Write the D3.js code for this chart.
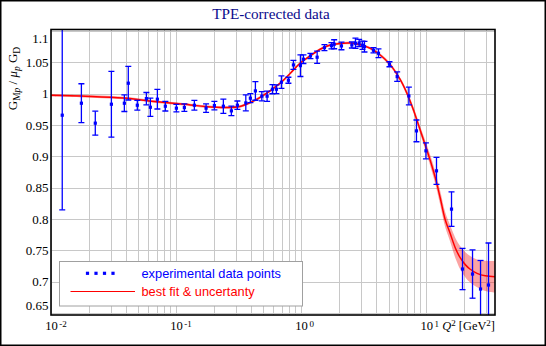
<!DOCTYPE html>
<html>
<head>
<meta charset="utf-8">
<script src="https://cdn.jsdelivr.net/npm/d3@7"></script>
<style>
  html, body { margin: 0; padding: 0; background: #fff; }
  svg { display: block; }
</style>
</head>
<body>
<svg id="chart" width="546" height="346"></svg>
<script>
// Measured G_Mp / (mu_p G_D) after two-photon-exchange correction
const q2 = [0.0123, 0.0175, 0.0226, 0.0304, 0.0386, 0.0415, 0.0490, 0.0579, 0.0623, 0.0709,
            0.0821, 0.1006, 0.1165, 0.1401, 0.1738, 0.2025, 0.2389, 0.2769, 0.3093, 0.3611,
            0.3929, 0.4309, 0.4850, 0.5346, 0.5894, 0.6344, 0.6957, 0.7913, 0.8677, 0.9872,
            1.0433, 1.187, 1.343, 1.536, 1.748, 1.837, 2.101, 2.545, 2.719, 2.911,
            3.094, 3.210, 3.788, 4.154, 5.086, 5.861, 7.27, 8.36, 9.95, 12.09,
            15.94, 19.52, 23.47, 27.2, 31.5];
const ratio = [0.9656, 0.9847, 0.9529, 0.9831, 0.9847, 1.0166, 0.9815, 0.9920, 0.9783, 0.9911,
               0.9799, 0.9768, 0.9777, 0.9815, 0.9768, 0.9809, 0.9799, 0.9725, 0.9815, 0.9852,
               0.9927, 1.0043, 0.9959, 0.9959, 1.0070, 1.0070, 1.0182, 1.0213, 1.0457, 1.0446,
               1.0548, 1.0600, 1.0580, 1.0732, 1.0764, 1.0787, 1.0760, 1.0775, 1.0803, 1.0807,
               1.0771, 1.0748, 1.0691, 1.0643, 1.0468, 1.0271, 0.9963, 0.9406, 0.9088, 0.8769,
               0.8159, 0.7204, 0.7124, 0.6885, 0.6949];
const ratioErr = [0.1508, 0.0310, 0.0191, 0.0525, 0.0132, 0.0268, 0.0077, 0.0098, 0.0146, 0.0156,
                  0.0076, 0.0060, 0.0060, 0.0077, 0.0068, 0.0067, 0.0114, 0.0077, 0.0067, 0.0127,
                  0.0072, 0.0149, 0.0074, 0.0082, 0.0072, 0.0070, 0.0100, 0.0048, 0.0072, 0.0173,
                  0.0068, 0.0042, 0.0098, 0.0048, 0.0050, 0.0072, 0.0061, 0.0048, 0.0082, 0.0056,
                  0.0066, 0.0085, 0.0043, 0.0069, 0.0040, 0.0075, 0.0141, 0.0173, 0.0127, 0.0215,
                  0.0275, 0.0329, 0.0385, 0.0455, 0.0670];

// Best fit and its uncertainty (half width of the band)
const fitQ2 = [0.01, 0.0175, 0.038, 0.07, 0.13, 0.17, 0.25, 0.33, 0.47, 0.68,
               0.82, 0.98, 1.18, 1.42, 1.71, 2.05, 2.47, 2.97, 3.57, 4.29,
               5.15, 6.19, 7.01, 7.91, 8.95, 10.13, 11.1, 11.9, 12.94, 14.2,
               15.56, 17.1, 18.75, 20.6, 22.5, 25.5, 29.7, 35.5];
const fitVal = [0.9975, 0.9960, 0.9930, 0.9870, 0.9820, 0.9795, 0.9780, 0.9800, 0.9940, 1.0166,
                1.0325, 1.0484, 1.0600, 1.0707, 1.0775, 1.0800, 1.0805, 1.0780, 1.0723, 1.0616,
                1.0462, 1.0225, 1.0006, 0.9740, 0.9420, 0.9100, 0.8850, 0.8640, 0.8340, 0.7989,
                0.7770, 0.7540, 0.7380, 0.7270, 0.7200, 0.7135, 0.7095, 0.7080];
const fitBand = [0.002, 0.002, 0.002, 0.002, 0.002, 0.002, 0.002, 0.002, 0.002, 0.002,
                 0.002, 0.002, 0.002, 0.002, 0.002, 0.002, 0.002, 0.002, 0.002, 0.0025,
                 0.003, 0.003, 0.004, 0.005, 0.006, 0.008, 0.009, 0.010, 0.011, 0.012,
                 0.013, 0.016, 0.0185, 0.020, 0.021, 0.022, 0.024, 0.025];

const yTickValues = [0.65, 0.7, 0.75, 0.8, 0.85, 0.9, 0.95, 1, 1.05, 1.1];
const xTickExponents = [-2, -1, 0, 1];

const serif = '"Liberation Serif", "Times New Roman", Times, serif';
const sans = '"Liberation Sans", Arial, Helvetica, sans-serif';

const svg = d3.select('#chart');
const W = 546, H = 346;
const plot = { left: 51, right: 495, top: 29.5, bottom: 315 };

svg.append('rect').attr('x', 0).attr('y', 0).attr('width', W).attr('height', H).attr('fill', '#fff');

const x = d3.scaleLog().domain([0.01, 35.5]).range([plot.left, plot.right]);
const y = d3.scaleLinear().domain([0.6471, 1.1022]).range([plot.bottom, plot.top]);

svg.append('defs').append('clipPath').attr('id', 'plotClip')
  .append('rect')
  .attr('x', plot.left).attr('y', plot.top)
  .attr('width', plot.right - plot.left).attr('height', plot.bottom - plot.top);

// grid
const gridX = [];
for (let k = -2; k <= 1; k++) {
  for (let m = 1; m <= 9; m++) {
    const v = m * Math.pow(10, k);
    if (v >= 0.01 && v <= 35.5) gridX.push(v);
  }
}
const grid = svg.append('g').attr('stroke', '#c8c8c8').attr('stroke-width', 1);
grid.selectAll('line.gx').data(gridX).join('line')
  .attr('class', 'gx')
  .attr('x1', d => Math.round(x(d)) + 0.5).attr('x2', d => Math.round(x(d)) + 0.5)
  .attr('y1', plot.top).attr('y2', plot.bottom);
grid.selectAll('line.gy').data(yTickValues).join('line')
  .attr('class', 'gy')
  .attr('x1', plot.left).attr('x2', plot.right)
  .attr('y1', d => Math.round(y(d)) + 0.5).attr('y2', d => Math.round(y(d)) + 0.5);

const layer = svg.append('g').attr('clip-path', 'url(#plotClip)');

// uncertainty band and fit curve
const fit = fitQ2.map((q, i) => ({ q, v: fitVal[i], b: fitBand[i] }));
const curve = d3.curveCatmullRom.alpha(0.5);
layer.append('path')
  .datum(fit)
  .attr('fill', '#f50000').attr('fill-opacity', 0.36)
  .attr('d', d3.area().curve(curve)
    .x(d => x(d.q)).y0(d => y(d.v - d.b)).y1(d => y(d.v + d.b)));
layer.append('path')
  .datum(fit)
  .attr('fill', 'none').attr('stroke', '#ff0000').attr('stroke-width', 1.5)
  .attr('d', d3.line().curve(curve).x(d => x(d.q)).y(d => y(d.v)));

// data points with error bars
const pts = q2.map((q, i) => ({ q, v: ratio[i], e: ratioErr[i] }));
const cap = 3;
const pg = layer.append('g').attr('stroke', '#0000ff').attr('stroke-width', 1.3);
const g = pg.selectAll('g').data(pts).join('g');
g.append('line')
  .attr('x1', d => x(d.q)).attr('x2', d => x(d.q))
  .attr('y1', d => y(d.v - d.e)).attr('y2', d => y(d.v + d.e));
g.append('line')
  .attr('x1', d => x(d.q) - cap).attr('x2', d => x(d.q) + cap)
  .attr('y1', d => y(d.v + d.e)).attr('y2', d => y(d.v + d.e));
g.append('line')
  .attr('x1', d => x(d.q) - cap).attr('x2', d => x(d.q) + cap)
  .attr('y1', d => y(d.v - d.e)).attr('y2', d => y(d.v - d.e));
g.append('rect')
  .attr('stroke', 'none').attr('fill', '#0000ff')
  .attr('x', d => x(d.q) - 1.6).attr('y', d => y(d.v) - 1.6)
  .attr('width', 3.2).attr('height', 3.2);

// legend
const lg = svg.append('g');
lg.append('rect').attr('x', 59.5).attr('y', 261.5).attr('width', 243).attr('height', 44.5)
  .attr('fill', '#fff').attr('stroke', '#a0a0a0').attr('stroke-width', 1);
[87.5, 96, 104.5, 113].forEach(cx => {
  lg.append('rect').attr('x', cx - 1.6).attr('y', 273.3 - 1.6).attr('width', 3.2).attr('height', 3.2)
    .attr('fill', '#0000ff');
});
lg.append('line').attr('x1', 70.5).attr('x2', 135).attr('y1', 291.5).attr('y2', 291.5)
  .attr('stroke', '#ff0000').attr('stroke-width', 1);
lg.append('text').attr('x', 141.5).attr('y', 277.8)
  .attr('font-family', sans).attr('font-size', 12.8).attr('fill', '#0000ff')
  .text('experimental data points');
lg.append('text').attr('x', 141.5).attr('y', 296)
  .attr('font-family', sans).attr('font-size', 12.8).attr('fill', '#ff0000')
  .text('best fit & uncertanty');

// plot frame
svg.append('rect')
  .attr('x', plot.left).attr('y', plot.top)
  .attr('width', plot.right - plot.left).attr('height', plot.bottom - plot.top)
  .attr('fill', 'none').attr('stroke', '#000').attr('stroke-width', 1.6);

// y axis
const yAxis = svg.append('g')
  .attr('transform', `translate(${plot.left},0)`)
  .call(d3.axisLeft(y).tickValues(yTickValues).tickSize(0).tickPadding(2.5)
    .tickFormat(d => String(+d.toFixed(2))));
yAxis.select('.domain').remove();
yAxis.selectAll('text')
  .attr('font-family', serif).attr('font-size', 13).attr('fill', '#000')
  .attr('y', d => {
    const lo = plot.top + 9, hi = plot.bottom - 10, p = y(d);
    if (p < lo) return lo - p;
    if (p > hi) return hi - p;
    return 0;
  });

// x axis: powers of ten
const xAxis = svg.append('g')
  .attr('transform', `translate(0,${plot.bottom})`)
  .call(d3.axisBottom(x).tickValues(xTickExponents.map(e => Math.pow(10, e)))
    .tickSize(0).tickFormat(() => ''));
xAxis.select('.domain').remove();
xAxis.selectAll('.tick text').remove();
xAxis.selectAll('.tick').each(function (d) {
  const e = Math.round(Math.log10(d));
  const t = d3.select(this).append('text')
    .attr('x', -6.3).attr('y', 14.5)
    .attr('font-family', serif).attr('font-size', 12.6).attr('fill', '#000')
    .attr('text-anchor', 'start');
  t.append('tspan').text('10');
  t.append('tspan').attr('dx', 1.5).attr('dy', -3).attr('font-size', 9).text(String(e));
});

// x axis title
const xt = svg.append('text')
  .attr('x', plot.right).attr('y', plot.bottom + 14.5)
  .attr('text-anchor', 'end')
  .attr('font-family', serif).attr('font-size', 12.4).attr('fill', '#000');
xt.append('tspan').attr('font-style', 'italic').text('Q');
xt.append('tspan').attr('dy', -3.5).attr('font-size', 9).text('2');
xt.append('tspan').attr('dy', 3.5).text(' [GeV');
xt.append('tspan').attr('dy', -3.5).attr('font-size', 9).text('2');
xt.append('tspan').attr('dy', 3.5).text(']');

// y axis title
const yt = svg.append('text')
  .attr('transform', 'translate(17,78.5) rotate(-90)')
  .attr('text-anchor', 'middle')
  .attr('font-family', serif).attr('font-size', 13).attr('fill', '#000');
yt.append('tspan').text('G');
yt.append('tspan').attr('dy', 3).attr('font-size', 9.5).text('M');
yt.append('tspan').attr('font-size', 9.5).attr('font-style', 'italic').text('p');
yt.append('tspan').attr('dy', -3).text(' / ');
yt.append('tspan').attr('font-style', 'italic').text('\u03bc');
yt.append('tspan').attr('dy', 3).attr('font-size', 9.5).attr('font-style', 'italic').text('p');
yt.append('tspan').attr('dy', -3).text(' G');
yt.append('tspan').attr('dy', 3).attr('font-size', 9.5).text('D');

// title
svg.append('text')
  .attr('x', 271).attr('y', 18.5)
  .attr('text-anchor', 'middle')
  .attr('font-family', serif).attr('font-size', 15.2).attr('fill', '#0a0a8c')
  .text('TPE-corrected data');

// outer frame
svg.append('rect').attr('x', 0.75).attr('y', 0.75).attr('width', W - 1.5).attr('height', H - 1.5)
  .attr('fill', 'none').attr('stroke', '#000').attr('stroke-width', 1.5);
</script>
</body>
</html>
